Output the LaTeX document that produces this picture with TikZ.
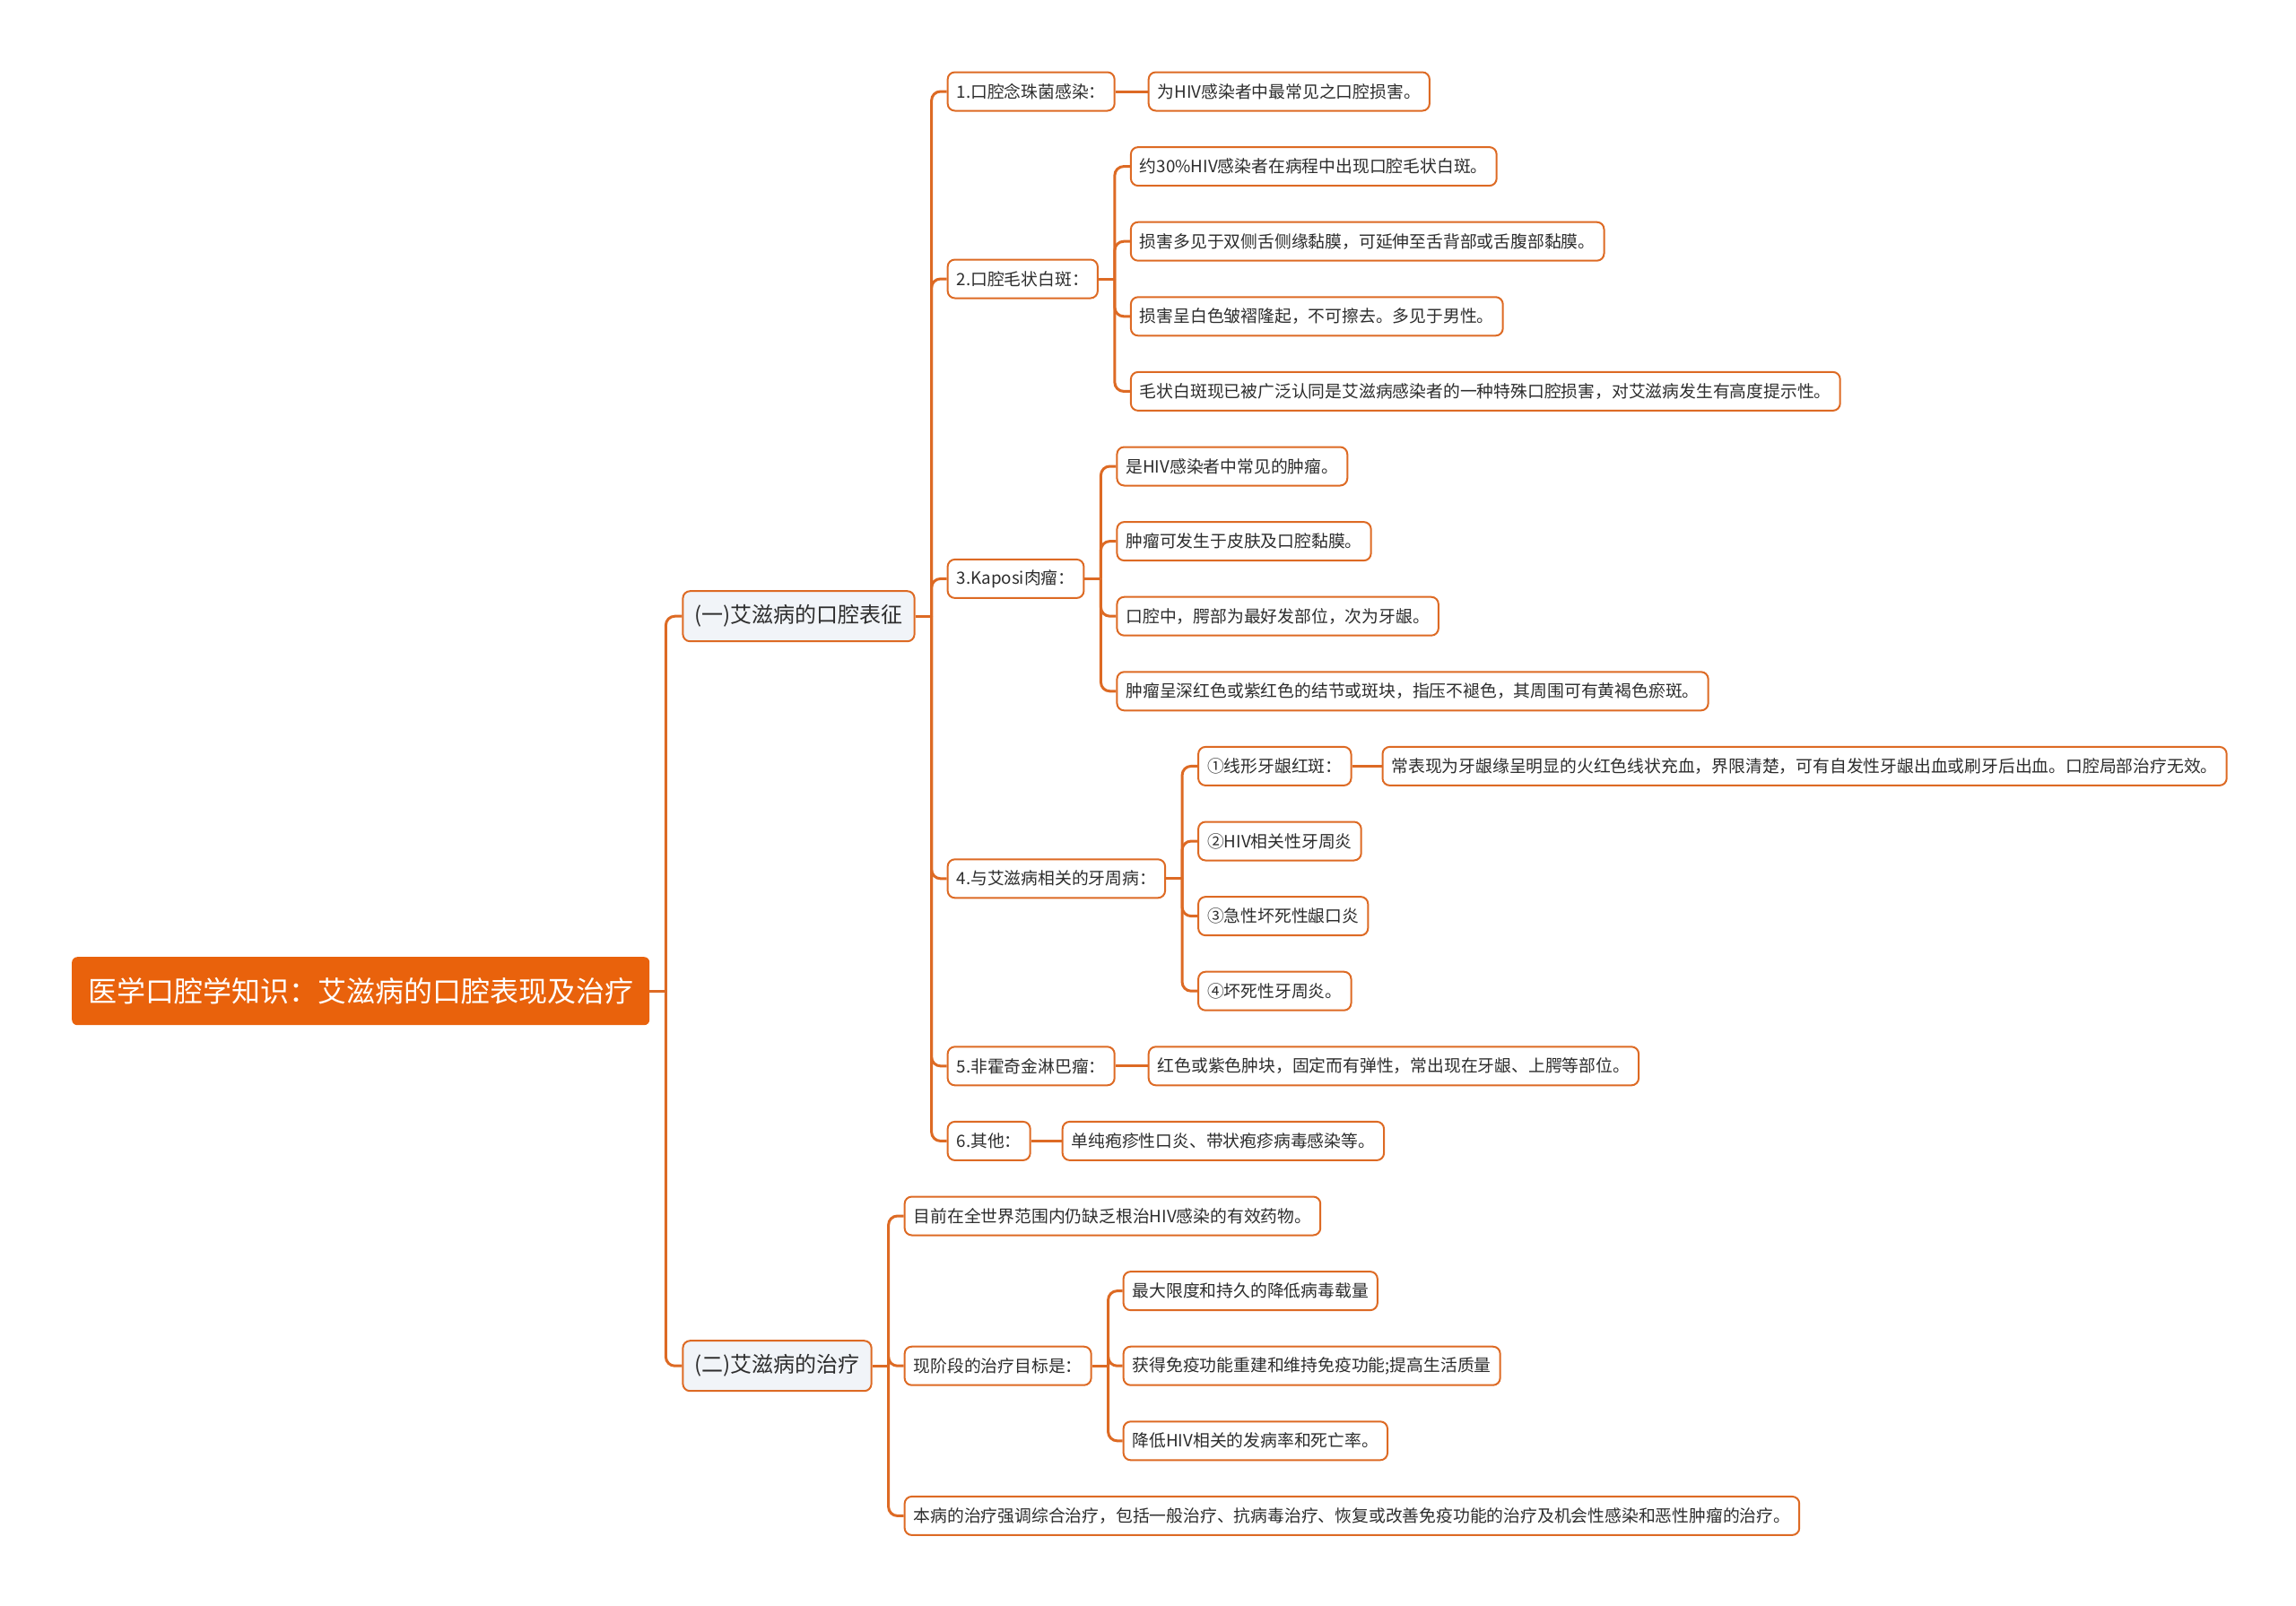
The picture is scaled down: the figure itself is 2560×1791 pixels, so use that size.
\documentclass[tikz,border=0pt]{standalone}
\usepackage{fontspec}
\setmainfont{Noto Sans CJK SC}
\usepackage{xcolor}
\usepackage{tikz}
\usetikzlibrary{positioning}

\definecolor{rootorange}{RGB}{233,98,12}
\definecolor{linkorange}{RGB}{221,106,36}
\definecolor{topicgray}{RGB}{241,244,248}
\definecolor{textgray}{RGB}{45,45,45}

\begin{document}
\begin{tikzpicture}[
  x=1pt, y=1pt,
  root/.style={fill=rootorange, text=white, rounded corners=6pt,
               minimum height=76pt, inner xsep=18pt,
               font=\fontsize{32}{38}\selectfont},
  topic/.style={draw=linkorange, line width=2pt, fill=topicgray, rounded corners=8pt,
                minimum height=56pt, inner xsep=13pt, text=textgray,
                font=\fontsize{24}{29}\selectfont},
  leaf/.style={draw=linkorange, line width=2pt, fill=white, rounded corners=8pt,
               minimum height=43pt, inner xsep=10pt, text=textgray,
               font=\fontsize{18.8}{23}\selectfont},
  link/.style={draw=linkorange, line width=3pt, rounded corners=10pt}
]
\useasboundingbox (0,0) rectangle (2560,-1791);

\node[root, anchor=west] (root) at (80,-1105.2)
  {医学口腔学知识：艾滋病的口腔表现及治疗};
\node[topic, right=36pt of root, yshift=418pt] (sign) {(一)艾滋病的口腔表征};
\node[topic, right=36pt of root, yshift=-418pt] (cure) {(二)艾滋病的治疗};

% (一) oral signs
\node[leaf, right=35pt of sign, yshift=585.2pt] (s1) {1.口腔念珠菌感染：};
\node[leaf, right=35pt of sign, yshift=376.2pt] (s2) {2.口腔毛状白斑：};
\node[leaf, right=35pt of sign, yshift=41.8pt] (s3) {3.Kaposi肉瘤：};
\node[leaf, right=35pt of sign, yshift=-292.6pt] (s4) {4.与艾滋病相关的牙周病：};
\node[leaf, right=35pt of sign, yshift=-501.6pt] (s5) {5.非霍奇金淋巴瘤：};
\node[leaf, right=35pt of sign, yshift=-585.2pt] (s6) {6.其他：};

\node[leaf, right=36pt of s1] (s1a) {为HIV感染者中最常见之口腔损害。};

\node[leaf, right=35pt of s2, yshift=125.4pt] (s2a) {约30\%HIV感染者在病程中出现口腔毛状白斑。};
\node[leaf, right=35pt of s2, yshift=41.8pt] (s2b) {损害多见于双侧舌侧缘黏膜，可延伸至舌背部或舌腹部黏膜。};
\node[leaf, right=35pt of s2, yshift=-41.8pt] (s2c) {损害呈白色皱褶隆起，不可擦去。多见于男性。};
\node[leaf, right=35pt of s2, yshift=-125.4pt] (s2d)
  {毛状白斑现已被广泛认同是艾滋病感染者的一种特殊口腔损害，对艾滋病发生有高度提示性。};

\node[leaf, right=35pt of s3, yshift=125.4pt] (s3a) {是HIV感染者中常见的肿瘤。};
\node[leaf, right=35pt of s3, yshift=41.8pt] (s3b) {肿瘤可发生于皮肤及口腔黏膜。};
\node[leaf, right=35pt of s3, yshift=-41.8pt] (s3c) {口腔中，腭部为最好发部位，次为牙龈。};
\node[leaf, right=35pt of s3, yshift=-125.4pt] (s3d)
  {肿瘤呈深红色或紫红色的结节或斑块，指压不褪色，其周围可有黄褐色瘀斑。};

\node[leaf, right=35pt of s4, yshift=125.4pt] (s4a) {①线形牙龈红斑：};
\node[leaf, right=35pt of s4, yshift=41.8pt] (s4b) {②HIV相关性牙周炎};
\node[leaf, right=35pt of s4, yshift=-41.8pt] (s4c) {③急性坏死性龈口炎};
\node[leaf, right=35pt of s4, yshift=-125.4pt] (s4d) {④坏死性牙周炎。};
\node[leaf, right=33pt of s4a] (s4aa)
  {常表现为牙龈缘呈明显的火红色线状充血，界限清楚，可有自发性牙龈出血或刷牙后出血。口腔局部治疗无效。};

\node[leaf, right=36pt of s5] (s5a) {红色或紫色肿块，固定而有弹性，常出现在牙龈、上腭等部位。};
\node[leaf, right=34pt of s6] (s6a) {单纯疱疹性口炎、带状疱疹病毒感染等。};

% (二) treatment
\node[leaf, right=35pt of cure, yshift=167.2pt] (c1) {目前在全世界范围内仍缺乏根治HIV感染的有效药物。};
\node[leaf, right=35pt of cure] (c2) {现阶段的治疗目标是：};
\node[leaf, right=35pt of cure, yshift=-167.2pt] (c3)
  {本病的治疗强调综合治疗，包括一般治疗、抗病毒治疗、恢复或改善免疫功能的治疗及机会性感染和恶性肿瘤的治疗。};

\node[leaf, right=34pt of c2, yshift=83.6pt] (c2a) {最大限度和持久的降低病毒载量};
\node[leaf, right=34pt of c2] (c2b) {获得免疫功能重建和维持免疫功能;提高生活质量};
\node[leaf, right=34pt of c2, yshift=-83.6pt] (c2c) {降低HIV相关的发病率和死亡率。};

% connectors
\foreach \p/\kids in {root/{sign,cure}, sign/{s1,s2,s3,s4,s5,s6},
    s2/{s2a,s2b,s2c,s2d}, s3/{s3a,s3b,s3c,s3d}, s4/{s4a,s4b,s4c,s4d},
    cure/{c1,c2,c3}, c2/{c2a,c2b,c2c}} {
  \draw[link] (\p.east) -- ++(18,0);
  \foreach \k in \kids
    \draw[link] (\p.east) ++(18,0) |- (\k.west);
}
\draw[link] (s1) -- (s1a);
\draw[link] (s4a) -- (s4aa);
\draw[link] (s5) -- (s5a);
\draw[link] (s6) -- (s6a);
\end{tikzpicture}
\end{document}
